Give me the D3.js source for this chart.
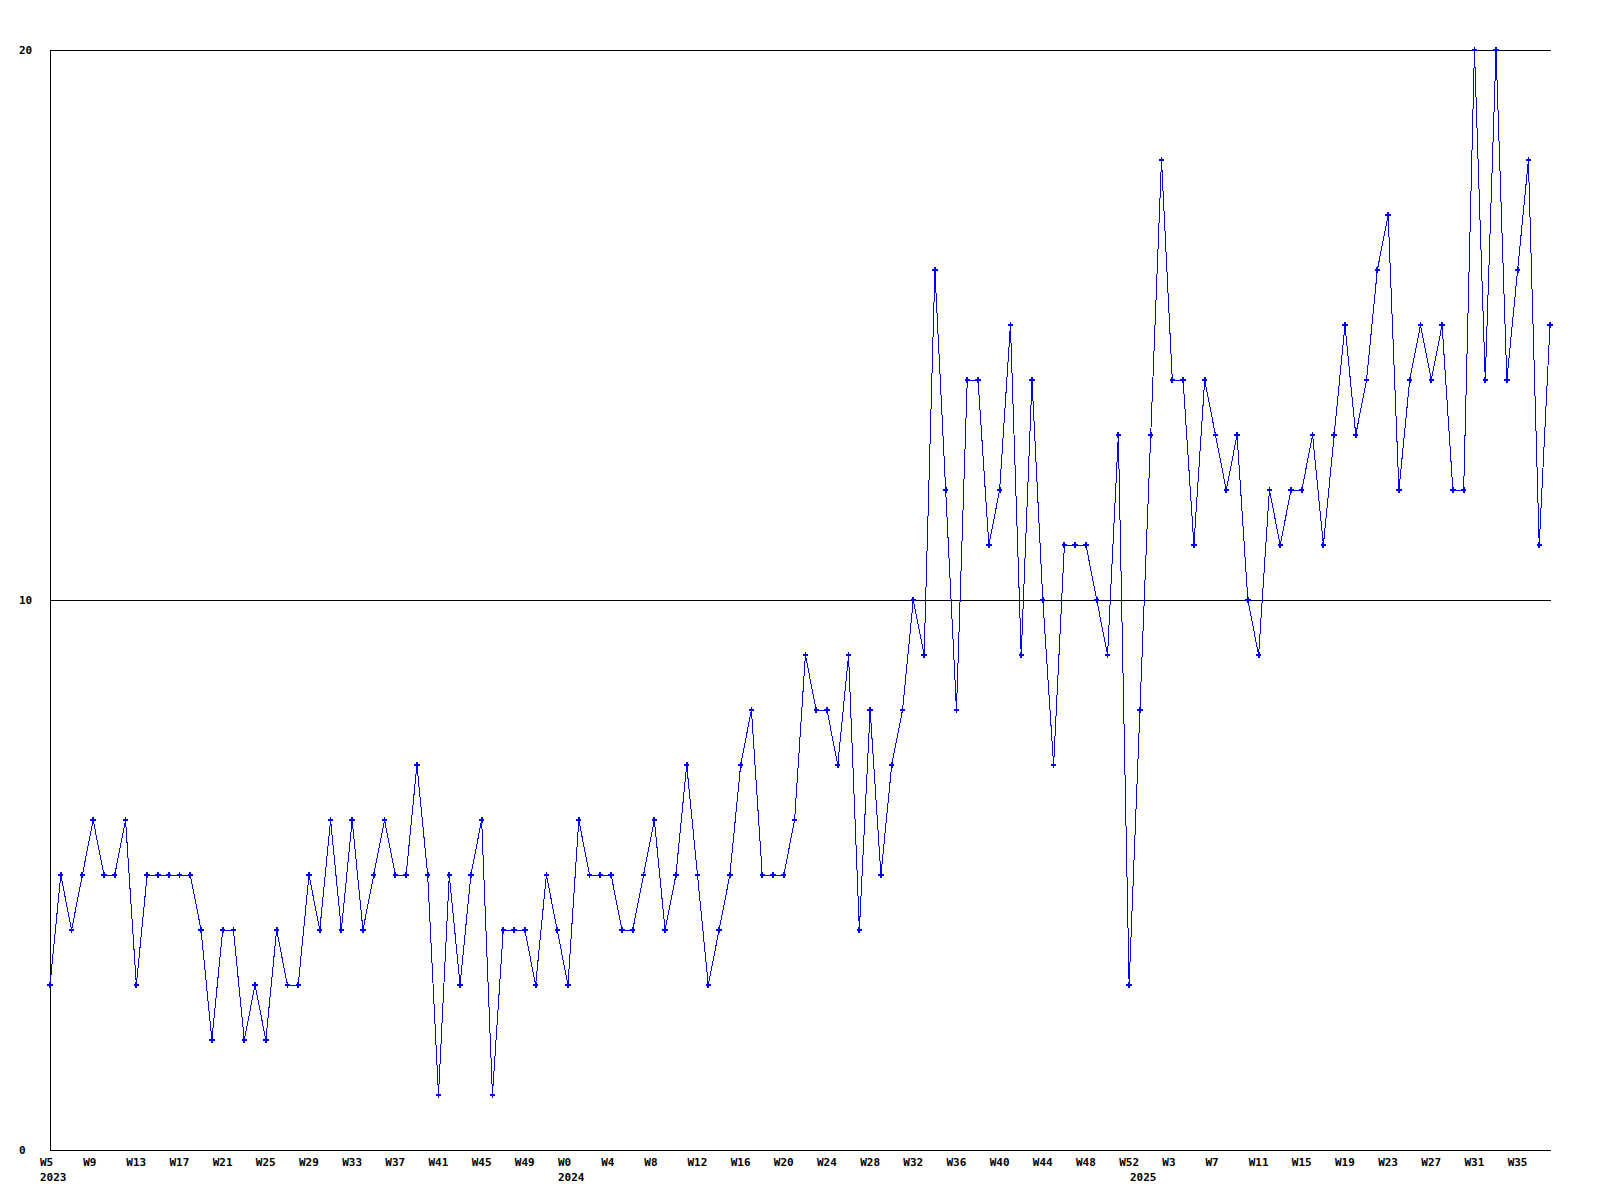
<!DOCTYPE html>
<html>
<head>
<meta charset="utf-8">
<script src="https://cdn.jsdelivr.net/npm/d3@7"></script>
<style>
  html, body { margin: 0; padding: 0; background: #ffffff; }
  svg { display: block; }
  text { font-family: "DejaVu Sans Mono", "Liberation Mono", monospace; font-weight: bold; font-size: 11px; fill: #000; }
</style>
</head>
<body>
<svg id="chart" width="1600" height="1200"></svg>
<script>
// Weekly values, 2023 W5 .. 2025 (one value per week)
const values = [
  3,5,4,5,6,5,5,6,3,5,5,5,5,5,4,2,4,4,2,3,2,4,3,3,5,4,6,4,6,4,5,6,5,5,7,5,1,
  5,3,5,6,1,4,4,4,3,5,4,3,6,5,5,5,4,4,5,6,4,5,7,5,3,4,5,7,8,5,5,5,6,
  9,8,8,7,9,4,8,5,7,8,10,9,16,12,8,14,14,11,12,15,9,14,10,7,
  11,11,11,10,9,13,3,8,13,18,14,14,11,14,13,12,13,10,9,12,11,12,12,13,11,13,15,13,14,16,17,12,14,15,14,15,12,12,20,14,20,14,16,18,11,15
];

// Week tick labels: one on every 4th week
const weekTickLabels = ["W5","W9","W13","W17","W21","W25","W29","W33","W37","W41","W45","W49",
  "W0","W4","W8","W12","W16","W20","W24","W28","W32","W36","W40","W44","W48",
  "W52","W3","W7","W11","W15","W19","W23","W27","W31","W35"];
const tickEvery = 4;

// Year labels under the first week of each year (week index)
const yearLabels = ["2023","2024","2025"];
const yearStartIndex = [0, 48, 101];

const yTicks = [0, 10, 20];

(function () {
const svg = d3.select("#chart");
const mLeft = 50, mRight = 1550, mTop = 50, mBottom = 1150;

const x = d3.scaleLinear().domain([0, values.length - 1]).range([mLeft, mRight]);
const y = d3.scaleLinear().domain([0, 20]).range([mBottom, mTop]);

const weekTickAt = d3.range(0, values.length, tickEvery).slice(0, weekTickLabels.length);

// horizontal grid lines
svg.append("g").selectAll("line")
  .data(yTicks.filter(d => d > 0))
  .join("line")
  .attr("x1", mLeft).attr("x2", mRight + 1)
  .attr("y1", d => Math.round(y(d)) + 0.5).attr("y2", d => Math.round(y(d)) + 0.5)
  .attr("stroke", "#000").attr("stroke-width", 1)
  .attr("shape-rendering", "crispEdges");

// axis lines
svg.append("line")
  .attr("x1", mLeft + 0.5).attr("x2", mLeft + 0.5)
  .attr("y1", mTop).attr("y2", mBottom + 1)
  .attr("stroke", "#000").attr("shape-rendering", "crispEdges");
svg.append("line")
  .attr("x1", mLeft).attr("x2", mRight + 1)
  .attr("y1", mBottom + 0.5).attr("y2", mBottom + 0.5)
  .attr("stroke", "#000").attr("shape-rendering", "crispEdges");

// y labels
svg.append("g").selectAll("text")
  .data(yTicks)
  .join("text")
  .attr("x", 19)
  .attr("y", d => y(d))
  .attr("dy", "0.35em")
  .attr("text-anchor", "start")
  .text(d => d);

function styleLabels(g, yPos) {
  g.select(".domain").remove();
  g.selectAll("text")
    .attr("text-anchor", "start")
    .attr("y", yPos).attr("dy", 0).attr("dx", -10.5)
    .style("font-family", "DejaVu Sans Mono, Liberation Mono, monospace")
    .style("font-weight", "bold")
    .style("font-size", "11px")
    .attr("fill", "#000");
}

// x week labels via axis
const xAxis = d3.axisBottom(x)
  .tickValues(weekTickAt)
  .tickFormat((d, i) => weekTickLabels[i])
  .tickSize(0)
  .tickPadding(0);
svg.append("g").attr("transform", `translate(0,${mBottom})`).call(xAxis).call(g => styleLabels(g, 16));

// year labels via axis
const yearAxis = d3.axisBottom(x)
  .tickValues(yearStartIndex)
  .tickFormat((d, i) => yearLabels[i])
  .tickSize(0)
  .tickPadding(0);
svg.append("g").attr("transform", `translate(0,${mBottom})`).call(yearAxis).call(g => styleLabels(g, 31));

// line
const line = d3.line().x((d, i) => x(i)).y(d => y(d));
svg.append("path")
  .datum(values)
  .attr("d", line)
  .attr("fill", "none")
  .attr("stroke", "#0000ff")
  .attr("stroke-width", 1)
  .attr("shape-rendering", "crispEdges");

// markers
const sym = d3.symbol().type(d3.symbolCross).size(16);
svg.append("g").selectAll("path")
  .data(values)
  .join("path")
  .attr("transform", (d, i) => `translate(${x(i)},${y(d)})`)
  .attr("d", sym)
  .attr("fill", "#0000ff")
  .attr("shape-rendering", "crispEdges");
})();
</script>
</body>
</html>
